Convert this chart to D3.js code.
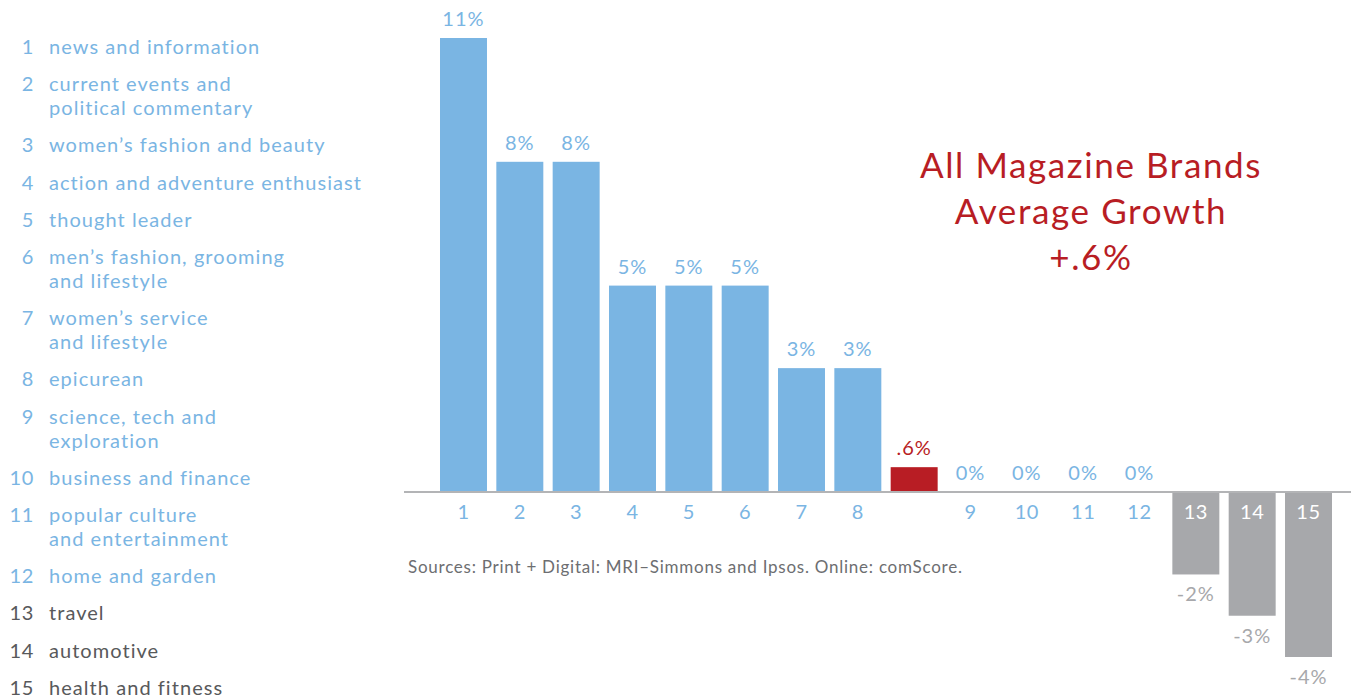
<!DOCTYPE html>
<html>
<head>
<meta charset="utf-8">
<script src="https://cdn.jsdelivr.net/npm/d3@7"></script>
<style>
  html, body { margin: 0; padding: 0; background: #fff; }
  svg { display: block; font-family: Lato, "Open Sans", sans-serif; }
</style>
</head>
<body>
<svg id="chart" width="1351" height="698"></svg>
<script>
// Category growth, in percent, in ranked order
const categoryIds = ["1","2","3","4","5","6","7","8","9","10","11","12","13","14","15"];
const categoryNames = [
  ["news and information"],
  ["current events and", "political commentary"],
  ["women\u2019s fashion and beauty"],
  ["action and adventure enthusiast"],
  ["thought leader"],
  ["men\u2019s fashion, grooming", "and lifestyle"],
  ["women\u2019s service", "and lifestyle"],
  ["epicurean"],
  ["science, tech and", "exploration"],
  ["business and finance"],
  ["popular culture", "and entertainment"],
  ["home and garden"],
  ["travel"],
  ["automotive"],
  ["health and fitness"]
];
const growth = [11, 8, 8, 5, 5, 5, 3, 3, 0, 0, 0, 0, -2, -3, -4];
const growthLabels = ["11%","8%","8%","5%","5%","5%","3%","3%","0%","0%","0%","0%","-2%","-3%","-4%"];
const averageGrowth = 0.6;
const averageLabel = ".6%";
const titleLines = ["All Magazine Brands", "Average Growth", "+.6%"];
const sourceNote = "Sources: Print + Digital: MRI\u2013Simmons and Ipsos. Online: comScore.";

const BLUE = "#7ab5e3";
const RED = "#b81d24";
const GRAY = "#a7a8ab";
const DARK = "#58595b";

const svg = d3.select("#chart");

// Slot order: bars 1-8, the average bar, then bars 9-15
const slots = [...categoryIds.slice(0, 8), "avg", ...categoryIds.slice(8)];
const x = d3.scaleBand().domain(slots).range([440, 1332]).paddingInner(0.166).paddingOuter(0);
const y = d3.scaleLinear().domain([-4, 11]).range([657, 38]);

const rows = categoryIds.map((id, i) => ({ id, value: growth[i], label: growthLabels[i] }));
const colorFor = d => d.value < 0 ? GRAY : BLUE;

// Bars
svg.append("g").selectAll("rect")
  .data(rows.filter(d => d.value !== 0))
  .join("rect")
  .attr("x", d => x(d.id))
  .attr("width", x.bandwidth())
  .attr("y", d => d.value > 0 ? y(d.value) : y(0) + 1)
  .attr("height", d => Math.abs(y(d.value) - y(0)) - (d.value > 0 ? 0 : 1))
  .attr("fill", colorFor);

// Average bar
svg.append("rect")
  .attr("x", x("avg"))
  .attr("width", x.bandwidth())
  .attr("y", y(averageGrowth))
  .attr("height", y(0) - y(averageGrowth))
  .attr("fill", RED);

// Baseline
svg.append("line")
  .attr("x1", 404).attr("x2", 1351)
  .attr("y1", y(0)).attr("y2", y(0))
  .attr("stroke", "#b3b4b6").attr("stroke-width", 2);

// Category axis: numbers below the baseline, white inside the negative bars
const axis = d3.axisBottom(x).tickSize(0).tickPadding(13)
  .tickFormat(d => d === "avg" ? "" : d);
const axisG = svg.append("g").attr("transform", `translate(0,${y(0)})`).call(axis);
axisG.select(".domain").remove();
axisG.selectAll("text")
  .attr("font-size", 20)
  .attr("font-family", "Lato, sans-serif")
  .attr("letter-spacing", 0.6)
  .attr("fill", d => {
    const r = rows.find(r => r.id === d);
    return r && r.value < 0 ? "#ffffff" : BLUE;
  });

// Value labels
svg.append("g").selectAll("text")
  .data(rows)
  .join("text")
  .attr("x", d => x(d.id) + x.bandwidth() / 2)
  .attr("y", d => d.value >= 0 ? y(d.value) - 12 : y(d.value) + 27)
  .attr("text-anchor", "middle")
  .attr("font-size", 20)
  .attr("letter-spacing", 1)
  .attr("fill", colorFor)
  .text(d => d.label);

svg.append("text")
  .attr("x", x("avg") + x.bandwidth() / 2)
  .attr("y", y(averageGrowth) - 12)
  .attr("text-anchor", "middle")
  .attr("font-size", 20)
  .attr("letter-spacing", 1)
  .attr("fill", RED)
  .text(averageLabel);

// Callout title
svg.append("g").selectAll("text")
  .data(titleLines)
  .join("text")
  .attr("x", 1091)
  .attr("y", (d, i) => 178 + i * 46)
  .attr("text-anchor", "middle")
  .attr("font-size", 35)
  .attr("letter-spacing", 1.6)
  .attr("fill", RED)
  .text(d => d);

// Source note
svg.append("text")
  .attr("x", 408).attr("y", 573)
  .attr("font-size", 17)
  .attr("letter-spacing", 0.75)
  .attr("fill", "#6d6e71")
  .text(sourceNote);

// Legend: number + wrapped category name
const legend = svg.append("g");
let ly = 54;
categoryNames.forEach((lines, i) => {
  const c = growth[i] < 0 ? DARK : BLUE;
  legend.append("text")
    .attr("x", 34).attr("y", ly)
    .attr("text-anchor", "end")
    .attr("font-size", 20).attr("fill", c)
    .attr("letter-spacing", 0.6)
    .text(categoryIds[i]);
  lines.forEach((line, j) => {
    legend.append("text")
      .attr("x", 49).attr("y", ly + j * 24)
      .attr("font-size", 20).attr("fill", c)
      .attr("letter-spacing", 1.05)
      .text(line);
  });
  ly += (lines.length - 1) * 24 + 37.2;
});
</script>
</body>
</html>
